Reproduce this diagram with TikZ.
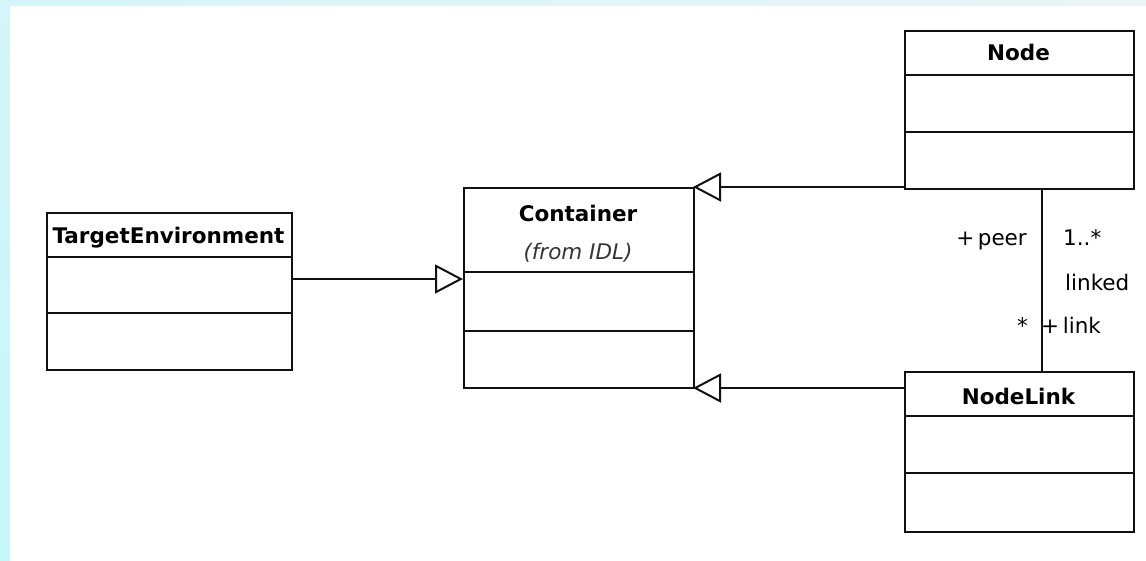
\documentclass[tikz,border=0pt]{standalone}
\usepackage{fontspec}
\setmainfont{DejaVu Sans}
\usetikzlibrary{arrows.meta}
\definecolor{edgecyan}{RGB}{212,245,249}
\definecolor{edgecyanb}{RGB}{197,246,250}
\definecolor{edgepale}{RGB}{234,245,247}
\definecolor{ink}{RGB}{17,17,17}
\tikzset{
  classbox/.style={draw=ink, line width=2pt, rectangle, inner sep=0pt, anchor=north west},
  divider/.style={draw=ink, line width=2pt},
  title/.style={font=\fontsize{21.5pt}{26pt}\selectfont\bfseries, anchor=base, inner sep=0pt},
  subtitle/.style={font=\fontsize{21.5pt}{26pt}\selectfont\itshape, anchor=base, inner sep=0pt, text=ink!85},
  role/.style={font=\fontsize{21.5pt}{26pt}\selectfont, inner sep=0pt},
  gen/.style={draw=ink, line width=2pt, -{Triangle[open, length=28pt, width=29pt]}},
  assoc/.style={draw=ink, line width=2pt}
}
\begin{document}
\begin{tikzpicture}[x=1pt,y=-1pt]
\useasboundingbox (0,0) rectangle (1146,560);
\fill[white] (0,0) rectangle (1146,560);
\shade[left color=edgecyan, right color=edgepale] (0,0) rectangle (1146,5);
\shade[top color=edgecyan, bottom color=edgecyanb] (0,0) rectangle (10,560);

% TargetEnvironment
\node[classbox, minimum width=245pt, minimum height=157pt] (te) at (46,212) {};
\draw[divider] (46,257) -- (291,257);
\draw[divider] (46,313) -- (291,313);
\node[title] (tetitle) at (168.5,243) {TargetEnvironment};

% Container
\node[classbox, minimum width=230pt, minimum height=200pt] (cont) at (463,187) {};
\draw[divider] (463,272) -- (693,272);
\draw[divider] (463,331) -- (693,331);
\node[title] (conttitle) at (578,221) {Container};
\node[subtitle] (contfrom) at (578,259) {(from IDL)};

% Node
\node[classbox, minimum width=229pt, minimum height=158pt] (nd) at (904,30) {};
\draw[divider] (904,75) -- (1133,75);
\draw[divider] (904,132) -- (1133,132);
\node[title] (ndtitle) at (1018.5,60) {Node};

% NodeLink
\node[classbox, minimum width=229pt, minimum height=160pt] (nl) at (904,371) {};
\draw[divider] (904,416) -- (1133,416);
\draw[divider] (904,473) -- (1133,473);
\node[title] (nltitle) at (1018.5,404) {NodeLink};

% generalizations
\coordinate (g1s) at (904,187);
\coordinate (g1e) at (693,187);
\draw[gen] (g1s) -- (g1e);
\coordinate (g2s) at (904,388);
\coordinate (g2e) at (693,388);
\draw[gen] (g2s) -- (g2e);
\coordinate (g3s) at (291,279);
\coordinate (g3e) at (463,279);
\draw[gen] (g3s) -- (g3e);

% association
\coordinate (a1) at (1042,188);
\coordinate (a2) at (1042,371);
\draw[assoc] (a1) -- (a2);
\node[role, anchor=base east] (peer) at (1027,245) {+\,peer};
\node[role, anchor=base west] (mult1) at (1063,245) {1..*};
\node[role, anchor=base west] (lnk) at (1065,290) {linked};
\node[role, anchor=base east] (mult2) at (1028,333) {*};
\node[role, anchor=base west] (lrole) at (1041,333) {+\,link};
\end{tikzpicture}
\end{document}
